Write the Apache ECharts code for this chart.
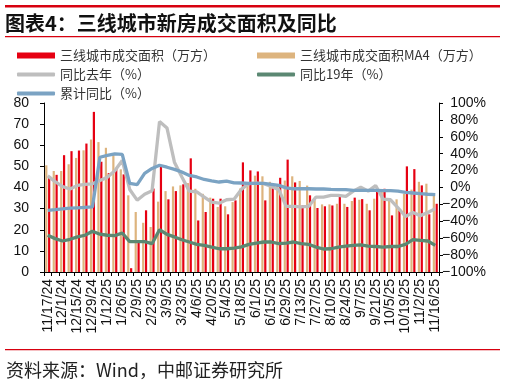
<!DOCTYPE html>
<html>
<head>
<meta charset="utf-8">
<script src="https://cdn.jsdelivr.net/npm/echarts@6/dist/echarts.min.js"></script>
<style>
html,body{margin:0;padding:0;background:#fff;}
#chart{width:506px;height:385px;}
</style>
</head>
<body>
<div id="chart"></div>
<script>
const categories = ["11/17/24","11/24/24","12/1/24","12/8/24","12/15/24","12/22/24","12/29/24",
"1/5/25","1/12/25","1/19/25","1/26/25","2/2/25","2/9/25","2/16/25","2/23/25","3/2/25","3/9/25",
"3/16/25","3/23/25","3/30/25","4/6/25","4/13/25","4/20/25","4/27/25","5/4/25","5/11/25","5/18/25",
"5/25/25","6/1/25","6/8/25","6/15/25","6/22/25","6/29/25","7/6/25","7/13/25","7/20/25","7/27/25",
"8/3/25","8/10/25","8/17/25","8/24/25","8/31/25","9/7/25","9/14/25","9/21/25","9/28/25","10/5/25",
"10/12/25","10/19/25","10/26/25","11/2/25","11/9/25","11/16/25"];

const areaWeekly = [45.3,46,55.3,57.2,57.5,60.8,75.8,52.2,46.8,49,46.2,1.8,14.3,29.2,39.5,49.7,34.4,
38.3,41.5,53.8,24.4,28.4,34.7,34.7,27.3,33.9,51.9,48.1,47.6,33.9,40.5,44.6,53.2,42.4,31.5,36.3,30.3,
31.1,31.5,35.8,30.8,35.2,34.5,29.2,38.6,39.4,26.8,29.2,50,48.7,41,27.3,32.3];

const areaMA4 = [50.5,47.8,47.8,51,54,57.6,62.7,61.5,58.8,55.5,48.6,36.3,28.4,23.3,21.3,33.3,38.3,
40.5,41,42.1,39.4,37,35.2,30.8,31.1,33.1,39.5,41.5,45.6,45.3,42.7,41,43.3,45.3,43.1,40.9,34.5,
32,32,32.3,32.3,33.6,34.2,32.3,34.7,38,33.9,34.4,37,39,42.7,41.8,37.4];

const yoyLastYear = [13.8,7,1,-1.8,2.5,3.8,4.3,8.3,12,19.8,32,-2.3,-15,-8,-3.8,78,70.5,30,12.5,-4.3,
-5.3,-11.3,-17.3,-18.5,-14.5,-13.8,-2,4.5,5.3,4.5,1.3,-2.5,-22.3,-22.3,-23,-22.3,-11.3,-11.3,-9.3,
-9.3,-10.5,-4.3,0.5,-4.3,2.3,-13.8,-14.5,-24,-34.3,-29.5,-33.3,-29.5,-25];

const yoy2019 = [-56.5,-60.5,-63.3,-61.3,-58.5,-56.5,-51.8,-55.3,-56.5,-57,-53.8,-64,-64,-64,-66.5,
-50,-55.5,-58.5,-61.8,-64.5,-67.3,-68.5,-70.5,-72.5,-72.5,-71.8,-70.3,-67.3,-65.8,-64.5,-64.5,-66.5,
-65.8,-64.5,-66.5,-67.3,-70.5,-72.8,-72.5,-70.5,-69.3,-68.5,-67.8,-69.3,-69.8,-70.5,-69.8,-69.8,
-67.3,-61.8,-62.5,-63.3,-68.5];

const yoyCumulative = [-27,-26.3,-25.3,-24.5,-24,-23.5,-23,35.8,38,39.8,39.3,4.8,3.3,16.8,22.5,26.3,
24,21.5,18.3,14.3,12.5,9.5,7.8,6.5,7.5,5.5,5.3,4.8,4.8,4.8,3.8,2.5,-0.5,-1.5,-1.5,-1.5,-1.8,-1.8,
-2.3,-2.5,-2.5,-3.3,-3.3,-3.5,-3.5,-3.8,-3.8,-4.3,-5.8,-6.5,-7.3,-8,-8.5];

const seriesNames = ["三线城市成交面积（万方）","三线城市成交面积MA4（万方）","同比去年（%）","同比19年（%）","累计同比（%）"];
const titleText = "图表4：三线城市新房成交面积及同比";
const sourceText = "资料来源：Wind，中邮证券研究所";

const C_RED = '#E60012', C_TAN = '#DDB47E', C_GRAY = '#BEBEBE', C_GREEN = '#5B8872', C_BLUE = '#7BA3C3';
const LINE_RED = '#D7000F';
const NUMFONT = 'Liberation Sans, Arial, sans-serif';
const CJK = '"Noto Sans CJK SC", sans-serif';

function leg(name, left, top, icon, h) {
  return {
    data: [{name: name, icon: icon}],
    left: left, top: top, padding: 0,
    itemWidth: 38, itemHeight: h, itemGap: 0,
    textStyle: {fontFamily: CJK, fontSize: 13, color: '#333', padding: [0,0,0,0]},
    selectedMode: false
  };
}

const chart = echarts.init(document.getElementById('chart'), null, {renderer: 'canvas'});
chart.setOption({
  animation: false,
  backgroundColor: '#fff',
  title: [
    {text: titleText, left: 5, top: 13, padding: 0,
     textStyle: {fontFamily: CJK, fontSize: 20, fontWeight: 'bold', color: '#111'}},
    {text: sourceText, left: 6, top: 361, padding: 0,
     textStyle: {fontFamily: CJK, fontSize: 18, fontWeight: 'normal', color: '#222'}}
  ],
  graphic: [
    {type: 'rect', shape: {x: 5, y: 5, width: 495, height: 2.4}, style: {fill: LINE_RED}, silent: true},
    {type: 'rect', shape: {x: 5, y: 36, width: 495, height: 1.3}, style: {fill: LINE_RED}, silent: true},
    {type: 'rect', shape: {x: 5, y: 349, width: 495, height: 1.2}, style: {fill: LINE_RED}, silent: true}
  ],
  legend: [
    leg(seriesNames[0], 17, 49, 'rect', 6),
    leg(seriesNames[1], 257, 49, 'rect', 6),
    leg(seriesNames[2], 17, 68, 'roundRect', 4),
    leg(seriesNames[3], 257, 68, 'roundRect', 4),
    leg(seriesNames[4], 17, 87, 'roundRect', 4)
  ],
  grid: {left: 44, right: 67, top: 103, bottom: 113, containLabel: false},
  xAxis: {
    type: 'category', data: categories, boundaryGap: true,
    axisLine: {lineStyle: {color: '#000', width: 1}},
    axisTick: {show: true, interval: 0, length: 4, inside: false, lineStyle: {color: '#000'}},
    axisLabel: {interval: 1, rotate: 90, margin: 7, fontFamily: NUMFONT, fontSize: 14, color: '#111'},
    splitLine: {show: false}
  },
  yAxis: [
    {type: 'value', min: 0, max: 80, interval: 10, position: 'left',
     axisLine: {show: true, lineStyle: {color: '#000'}},
     axisTick: {show: true, length: 4, lineStyle: {color: '#000'}},
     axisLabel: {margin: 15, fontFamily: NUMFONT, fontSize: 14, color: '#111'},
     splitLine: {show: false}},
    {type: 'value', min: -100, max: 100, interval: 20, position: 'right',
     axisLine: {show: true, lineStyle: {color: '#000'}},
     axisTick: {show: true, length: 4, lineStyle: {color: '#000'}},
     axisLabel: {margin: 3, align: 'left',
       formatter: function (v) {
         return v < 0 ? '{t|\u2212' + Math.abs(v) + '%}' : '{p|}{t|' + v + '%}';
       },
       rich: {p: {width: 8.2, fontSize: 14}, t: {fontFamily: NUMFONT, fontSize: 14, color: '#111'}}},
     splitLine: {show: false}}
  ],
  series: [
    {name: seriesNames[1], type: 'bar', data: areaMA4, yAxisIndex: 0, barWidth: 2.2, barGap: '30%',
     itemStyle: {color: C_TAN}},
    {name: seriesNames[0], type: 'bar', data: areaWeekly, yAxisIndex: 0, barWidth: 2.2, barGap: '30%',
     itemStyle: {color: C_RED}},
    {name: seriesNames[2], type: 'line', data: yoyLastYear, yAxisIndex: 1, symbol: 'none',
     lineStyle: {color: C_GRAY, width: 3.3}, itemStyle: {color: C_GRAY}},
    {name: seriesNames[3], type: 'line', data: yoy2019, yAxisIndex: 1, symbol: 'none',
     lineStyle: {color: C_GREEN, width: 3.3}, itemStyle: {color: C_GREEN}},
    {name: seriesNames[4], type: 'line', data: yoyCumulative, yAxisIndex: 1, symbol: 'none',
     lineStyle: {color: C_BLUE, width: 3.3}, itemStyle: {color: C_BLUE}}
  ]
});
</script>
</body>
</html>
